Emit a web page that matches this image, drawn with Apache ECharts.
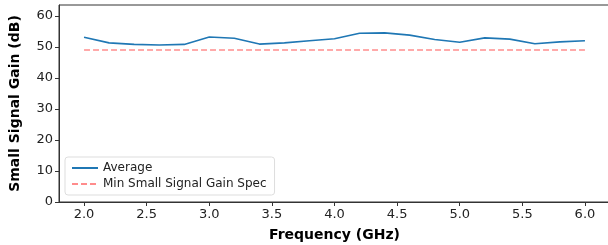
<!DOCTYPE html>
<html>
<head>
<meta charset="utf-8">
<script src="https://cdn.jsdelivr.net/npm/echarts@6/dist/echarts.min.js"></script>
<style>
  html, body { margin: 0; padding: 0; background: #fff; }
  #chart { width: 608px; height: 245px; }
</style>
</head>
<body>
<div id="chart"></div>
<script>
// frequency points (GHz)
const freqs = [2.0, 2.2, 2.4, 2.6, 2.8, 3.0, 3.2, 3.4, 3.6, 3.8, 4.0,
               4.2, 4.4, 4.6, 4.8, 5.0, 5.2, 5.4, 5.6, 5.8, 6.0];
// average small signal gain (dB)
const average = [53.1, 51.3, 50.8, 50.6, 50.8, 53.2, 52.8, 50.9, 51.3, 52.0, 52.6,
                 54.4, 54.5, 53.8, 52.4, 51.5, 52.9, 52.5, 51.0, 51.6, 52.0];
// spec limit (dB)
const spec = [49, 49, 49, 49, 49, 49, 49, 49, 49, 49, 49,
              49, 49, 49, 49, 49, 49, 49, 49, 49, 49];
const xTicks = [2.0, 2.5, 3.0, 3.5, 4.0, 4.5, 5.0, 5.5, 6.0];
const yTicks = [0, 10, 20, 30, 40, 50, 60];

const chart = echarts.init(document.getElementById('chart'));
const font = 'DejaVu Sans';

const option = {
  animation: false,
  grid: {
    left: 59, right: -2, top: 5, bottom: 43,
    outerBoundsMode: 'none',
    show: true, borderColor: '#333', borderWidth: 1
  },
  legend: {
    left: 65, top: 157,
    orient: 'vertical',
    itemWidth: 26, itemHeight: 10, itemGap: 4,
    padding: [5, 8, 5, 6],
    borderColor: '#ddd', borderWidth: 1, borderRadius: 3,
    backgroundColor: 'rgba(255,255,255,0.8)',
    itemStyle: { opacity: 0 },
    textStyle: { fontFamily: font, fontSize: 12, color: '#222' },
    data: ['Average', 'Min Small Signal Gain Spec']
  },
  xAxis: {
    type: 'value', min: 1.8, max: 6.2,
    name: 'Frequency (GHz)', nameLocation: 'middle', nameGap: 26,
    nameTextStyle: { fontFamily: font, fontSize: 14, fontWeight: 'bold', color: '#000' },
    axisLine: { show: true, lineStyle: { color: '#333' } },
    axisTick: { show: true, length: 4, customValues: xTicks, lineStyle: { color: '#333' } },
    axisLabel: {
      customValues: xTicks, fontFamily: font, fontSize: 13, color: '#222', margin: 6,
      formatter: v => v.toFixed(1)
    },
    splitLine: { show: false }
  },
  yAxis: {
    type: 'value', min: 0, max: 63.5,
    name: 'Small Signal Gain (dB)', nameLocation: 'middle', nameGap: 37,
    nameTextStyle: { fontFamily: font, fontSize: 14, fontWeight: 'bold', color: '#000' },
    axisLine: { show: true, lineStyle: { color: '#333' } },
    axisTick: { show: true, length: 4, customValues: yTicks, lineStyle: { color: '#333' } },
    axisLabel: { customValues: yTicks, fontFamily: font, fontSize: 13, color: '#222', margin: 6 },
    splitLine: { show: false }
  },
  series: [
    {
      name: 'Average', type: 'line', symbol: 'none',
      data: freqs.map((f, i) => [f, average[i]]),
      lineStyle: { color: '#1f77b4', width: 1.6 },
      itemStyle: { color: '#1f77b4' }
    },
    {
      name: 'Min Small Signal Gain Spec', type: 'line', symbol: 'none',
      data: freqs.map((f, i) => [f, spec[i]]),
      lineStyle: { color: 'rgba(255,0,0,0.45)', width: 1.6, type: [6, 3] },
      itemStyle: { color: 'rgba(255,0,0,0.45)' }
    }
  ]
};
chart.setOption(option);
</script>
</body>
</html>
